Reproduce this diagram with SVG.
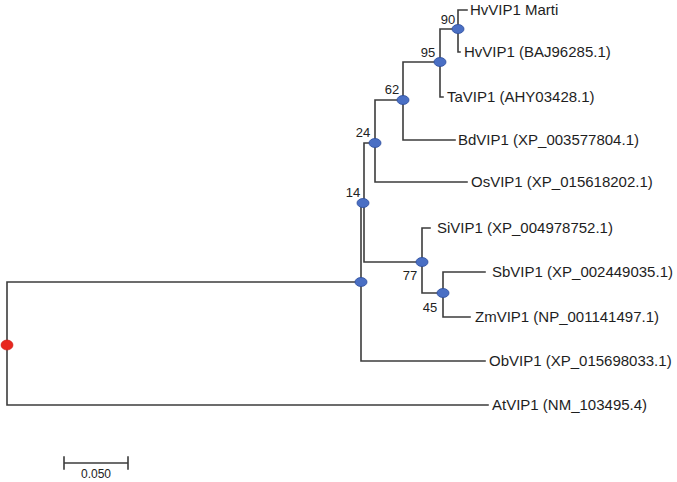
<svg xmlns="http://www.w3.org/2000/svg" width="677" height="482" viewBox="0 0 677 482">
<style>
.br{fill:none;stroke:#3c3c3c;stroke-width:1.6;stroke-linecap:square}
.lbl{font-family:"Liberation Sans",Arial,sans-serif;font-size:15px;fill:#1e1e1e}
.bs{font-family:"Liberation Sans",Arial,sans-serif;font-size:13px;fill:#222;text-anchor:middle}
.nd{fill:#4a6fc4;stroke:#2c4c9c;stroke-width:0.8}
.rt{fill:#e8271e;stroke:#c81a12;stroke-width:0.6}
</style>
<rect width="677" height="482" fill="#ffffff"/>
<g id="connectors">
<path class="br" d="M7,282 V405 M7,282 H361 M7,405 H488"/>
<path class="br" d="M361,203 V361 M361,203 H364 M361,361 H485"/>
<path class="br" d="M364,143 V262 M364,143 H375 M364,262 H422"/>
<path class="br" d="M375,100 V182 M375,100 H403 M375,182 H467"/>
<path class="br" d="M403,62 V140 M403,62 H440 M403,140 H455"/>
<path class="br" d="M440,29 V97 M440,29 H458 M440,97 H443"/>
<path class="br" d="M458,10 V52 M458,10 H467 M458,52 H460"/>
<path class="br" d="M422,228 V293 M422,228 H430 M422,293 H443"/>
<path class="br" d="M443,272 V317 M443,272 H485 M443,317 H470"/>
</g>
<g id="root"><ellipse class="rt" cx="7" cy="345" rx="6" ry="5"/></g>
<g id="node-0"><ellipse class="nd" cx="361" cy="282" rx="6" ry="4.5"/></g>
<g id="node-14"><ellipse class="nd" cx="363" cy="203" rx="6" ry="4.5"/><text class="bs" x="353" y="197">14</text></g>
<g id="node-24"><ellipse class="nd" cx="375" cy="143" rx="6" ry="4.5"/><text class="bs" x="363" y="137">24</text></g>
<g id="node-62"><ellipse class="nd" cx="403" cy="100" rx="6" ry="4.5"/><text class="bs" x="392" y="94">62</text></g>
<g id="node-95"><ellipse class="nd" cx="440" cy="62" rx="6" ry="4.5"/><text class="bs" x="428" y="57">95</text></g>
<g id="node-90"><ellipse class="nd" cx="458" cy="29" rx="6" ry="4.5"/><text class="bs" x="448" y="24">90</text></g>
<g id="node-77"><ellipse class="nd" cx="422" cy="262" rx="6" ry="4.5"/><text class="bs" x="410" y="280">77</text></g>
<g id="node-45"><ellipse class="nd" cx="443" cy="293" rx="6" ry="4.5"/><text class="bs" x="430" y="312">45</text></g>
<g id="leaf-hv-marti"><text class="lbl" x="470" y="15">HvVIP1 Marti</text></g>
<g id="leaf-hv"><text class="lbl" x="464" y="57">HvVIP1 (BAJ96285.1)</text></g>
<g id="leaf-ta"><text class="lbl" x="447" y="102">TaVIP1 (AHY03428.1)</text></g>
<g id="leaf-bd"><text class="lbl" x="458" y="145">BdVIP1 (XP_003577804.1)</text></g>
<g id="leaf-os"><text class="lbl" x="471" y="187">OsVIP1 (XP_015618202.1)</text></g>
<g id="leaf-si"><text class="lbl" x="437" y="233">SiVIP1 (XP_004978752.1)</text></g>
<g id="leaf-sb"><text class="lbl" x="492" y="277">SbVIP1 (XP_002449035.1)</text></g>
<g id="leaf-zm"><text class="lbl" x="475" y="322">ZmVIP1 (NP_001141497.1)</text></g>
<g id="leaf-ob"><text class="lbl" x="489" y="366">ObVIP1 (XP_015698033.1)</text></g>
<g id="leaf-at"><text class="lbl" x="492" y="410">AtVIP1 (NM_103495.4)</text></g>
<g id="scale">
<path class="br" d="M64,463 H128 M64,457 V469 M128,457 V469"/>
<text class="bs" x="96" y="478" style="font-size:12px">0.050</text>
</g>
</svg>
